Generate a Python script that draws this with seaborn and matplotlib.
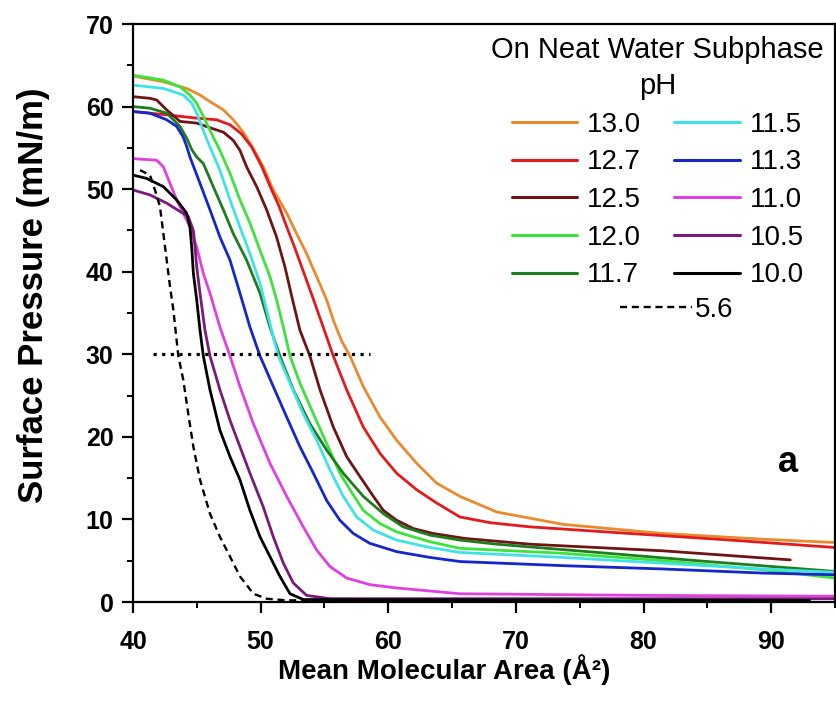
import numpy as np
import pandas as pd
import matplotlib
matplotlib.use("Agg")
import matplotlib.pyplot as plt
import seaborn as sns
from matplotlib.ticker import MultipleLocator

# ---------------- data ----------------
x_13_0 = [40, 42.38, 44.2, 45.25, 46.03, 47.08, 47.86, 48.64, 49.43, 50.21, 50.99, 52.04, 52.82, 53.6, 54.39, 55.17, 55.75,
          56.35, 57.0, 58.04, 59.35, 60.65, 62.22, 63.78, 65.61, 68.5, 73.7, 81.5, 89.4, 95]
y_13_0 = [63.7, 63.0, 62.2, 61.4, 60.6, 59.6, 58.4, 56.9, 54.9, 52.7, 49.9, 47.1, 44.6, 42.2, 39.4, 36.6, 33.9,
          31.6, 29.8, 26.1, 22.4, 19.6, 16.8, 14.4, 12.8, 10.9, 9.4, 8.3, 7.6, 7.2]

x_12_7 = [40, 42.64, 44.99, 46.55, 47.6, 48.5, 49.3, 50.1, 50.75, 51.45, 52.05, 52.65, 53.4, 54.15, 54.9,
          55.69, 56.74, 58.04, 59.35, 60.65, 62.22, 63.78, 65.61, 68.0, 71.1, 78.9, 86.8, 95]
y_12_7 = [59.4, 59.0, 58.6, 58.4, 57.8, 56.7, 55.1, 52.7, 50.3, 47.9, 45.4, 43.0, 39.8, 36.6, 33.3,
          29.8, 25.7, 21.2, 18.0, 15.6, 13.6, 12.0, 10.3, 9.6, 9.1, 8.3, 7.5, 6.6]

x_12_5 = [40, 41.33, 41.85, 42.64, 43.68, 44.99, 46.29, 47.08, 47.86, 48.38, 48.9, 49.69, 50.47, 51.25, 51.9, 52.5, 53.08,
          53.86, 54.65, 55.69, 56.74, 57.78, 58.83, 59.61, 60.65, 61.96, 63.5, 66.0, 71.1, 81.5, 91.5]
y_12_5 = [61.2, 61.0, 60.8, 59.6, 58.2, 58.0, 57.3, 56.9, 55.9, 54.7, 52.7, 50.3, 47.5, 44.2, 40.6, 36.6, 32.9,
          29.8, 25.7, 21.2, 17.6, 15.2, 12.8, 11.1, 9.9, 8.9, 8.3, 7.7, 7.0, 6.2, 5.1]

x_12_0 = [40, 42.38, 43.68, 44.46, 44.99, 45.51, 46.29, 46.81, 47.6, 48.38, 49.16, 49.95, 50.73, 51.25, 51.78,
          52.3, 53.08, 54.13, 55.17, 56.21, 57.0, 58.04, 59.35, 60.65, 63.26, 65.61, 73.7, 81.5, 89.4, 95]
y_12_0 = [63.8, 63.2, 62.4, 61.4, 60.4, 58.8, 56.3, 54.7, 51.9, 48.7, 45.9, 42.6, 39.4, 36.6, 33.3,
          29.8, 26.5, 22.8, 19.2, 15.6, 13.6, 11.1, 9.5, 8.5, 7.3, 6.5, 5.9, 5.0, 3.9, 2.9]

x_11_7 = [40, 41.33, 42.64, 43.68, 44.2, 44.6, 44.99, 45.51, 46.29, 47.08, 47.86, 48.9, 49.95, 50.73,
          51.51, 52.56, 53.86, 55.17, 56.47, 58.04, 59.61, 61.17, 63.26, 65.61, 68.5, 76.4, 84.2, 95]
y_11_7 = [60.0, 59.8, 59.2, 57.6, 56.2, 54.8, 53.9, 53.1, 50.3, 47.5, 44.6, 41.4, 37.4, 33.3,
          29.8, 25.7, 21.6, 18.4, 15.6, 12.8, 10.7, 9.1, 8.1, 7.5, 7.0, 6.0, 5.0, 3.7]

x_11_5 = [40, 42.38, 43.94, 44.6, 44.99, 45.51, 46.03, 46.81, 47.6, 48.38, 49.16, 49.95, 50.4, 50.8,
          51.38, 52.3, 53.34, 54.39, 55.43, 56.47, 57.52, 58.83, 60.65, 63.26, 65.61, 73.7, 81.5, 89.4, 95]
y_11_5 = [62.6, 62.2, 61.4, 60.4, 59.2, 57.1, 55.1, 52.3, 48.7, 45.4, 42.2, 38.6, 35.8, 33.3,
          29.8, 26.5, 22.8, 19.6, 16.0, 12.8, 10.3, 8.7, 7.5, 6.6, 6.0, 5.4, 4.7, 4.0, 3.6]

x_11_3 = [40, 41.33, 42.64, 43.42, 43.94, 44.2, 44.46, 45.25, 46.03, 46.81, 47.6, 48.38, 49.16,
          49.95, 50.99, 52.04, 53.08, 54.13, 55.17, 56.21, 57.26, 58.56, 60.65, 63.26, 65.61, 73.7, 81.5, 89.4, 95]
y_11_3 = [59.4, 59.2, 58.4, 57.6, 56.3, 55.2, 53.9, 50.7, 47.5, 44.2, 41.4, 37.4, 33.3,
          29.8, 26.1, 22.4, 18.8, 15.6, 12.3, 9.9, 8.3, 7.1, 6.1, 5.4, 4.9, 4.4, 4.0, 3.5, 3.3]

x_11_0 = [40, 41.85, 42.38, 42.9, 43.42, 43.94, 44.46, 44.99, 45.51, 46.03, 46.81,
          47.6, 48.38, 49.43, 50.73, 52.04, 53.34, 54.39, 55.43, 56.74, 58.56, 60.65, 65.61, 80.0, 95]
y_11_0 = [53.7, 53.5, 52.7, 50.7, 48.7, 47.1, 45.4, 43.0, 39.8, 37.4, 33.3,
          29.8, 26.1, 21.6, 16.8, 12.8, 9.1, 6.3, 4.3, 2.9, 2.1, 1.7, 1.0, 0.8, 0.7]

x_10_5 = [40, 41.33, 42.64, 43.68, 44.33, 44.73, 44.86, 44.99, 45.25, 45.64,
          46.03, 46.81, 47.6, 48.38, 49.16, 50.21, 50.99, 51.78, 52.56, 53.6, 55.43, 65.6, 95]
y_10_5 = [49.9, 49.3, 48.3, 47.3, 46.7, 45.0, 43.0, 40.6, 37.4, 32.9,
          29.8, 25.7, 22.0, 18.8, 15.6, 11.5, 7.9, 4.7, 2.3, 0.8, 0.4, 0.4, 0.4]

x_10_0 = [40, 41.07, 42.38, 43.42, 44.2, 44.46, 44.6, 44.73, 44.99, 45.25,
          45.51, 46.03, 46.81, 47.6, 48.38, 49.16, 49.95, 50.73, 51.51, 52.3, 53.34, 93.0]
y_10_0 = [51.7, 51.3, 50.3, 48.7, 47.1, 45.4, 43.0, 39.8, 36.6, 32.9,
          29.8, 25.7, 20.8, 17.6, 14.8, 11.1, 7.9, 5.5, 3.1, 1.0, 0.3, 0.2]

x_5_6 = [40.55, 41.33, 41.72, 42.11, 42.38, 42.64, 42.9, 43.16,
         43.55, 43.94, 44.33, 44.73, 45.25, 46.03, 46.81, 47.6, 48.38, 49.43, 50.47, 52.04, 93.0]
y_5_6 = [52.3, 51.7, 49.9, 47.9, 44.6, 41.4, 38.2, 35.4,
         29.8, 26.9, 22.8, 18.8, 14.8, 10.7, 7.9, 5.5, 3.1, 1.0, 0.4, 0.2, 0.1]

# horizontal reference line at 30 mN/m
ref_x = [41.6, 58.6]
ref_y = [30, 30]

ph_labels = ["13.0", "12.7", "12.5", "12.0", "11.7", "11.5", "11.3", "11.0", "10.5", "10.0", "5.6"]
colors = ["#E98A2E", "#E31A1C", "#6E1414", "#3CE33C", "#1E7D1E",
          "#3FE3E6", "#1426CC", "#E040E0", "#7A1A7A", "#000000", "#000000"]

curves = [(x_13_0, y_13_0), (x_12_7, y_12_7), (x_12_5, y_12_5), (x_12_0, y_12_0),
          (x_11_7, y_11_7), (x_11_5, y_11_5), (x_11_3, y_11_3), (x_11_0, y_11_0),
          (x_10_5, y_10_5), (x_10_0, y_10_0), (x_5_6, y_5_6)]

# ---------------- style ----------------
sns.set_style("ticks")
plt.rcParams["font.family"] = ["Liberation Sans", "DejaVu Sans"]
plt.rcParams["text.color"] = "black"
plt.rcParams["axes.labelcolor"] = "black"
plt.rcParams["xtick.color"] = "black"
plt.rcParams["ytick.color"] = "black"
plt.rcParams["axes.edgecolor"] = "black"
plt.rcParams["lines.solid_joinstyle"] = "round"

fig = plt.figure(figsize=(8.36, 7.1), dpi=100)
ax = fig.add_axes([133 / 836, 1 - 602 / 710, (835 - 133) / 836, (602 - 24) / 710])

handles = []
for (xs, ys), lab, col in zip(curves, ph_labels, colors):
    df = pd.DataFrame({"area": xs, "pressure": ys})
    sns.lineplot(data=df, x="area", y="pressure", ax=ax, color=col,
                 lw=2.0, sort=False, estimator=None)
    ln = ax.lines[-1]
    ln.set_label(lab)
    if lab == "5.6":
        ln.set_linestyle((0, (3, 2)))
        ln.set_linewidth(1.7)
    handles.append(ln)

df_ref = pd.DataFrame({"area": ref_x, "pressure": ref_y})
sns.lineplot(data=df_ref, x="area", y="pressure", ax=ax, color="black",
             lw=2.3, sort=False, estimator=None)
ax.lines[-1].set_linestyle((0, (1, 1.7)))

ax.set_xlim(40, 95)
ax.set_ylim(0, 70)
ax.xaxis.set_major_locator(MultipleLocator(10))
ax.xaxis.set_minor_locator(MultipleLocator(5))
ax.yaxis.set_major_locator(MultipleLocator(10))
ax.yaxis.set_minor_locator(MultipleLocator(5))

for s in ax.spines.values():
    s.set_linewidth(1.6)
    s.set_color("black")
ax.tick_params(axis="both", which="major", direction="out", length=8, width=1.6,
               labelsize=18, colors="black")
ax.tick_params(axis="both", which="minor", direction="out", length=4, width=1.4,
               colors="black")
ax.tick_params(axis="x", which="major", pad=12)
ax.tick_params(axis="y", which="major", pad=6)
for t in ax.get_xticklabels() + ax.get_yticklabels():
    t.set_fontweight("bold")

ax.set_xlabel("Mean Molecular Area (Å²)", fontsize=20, fontweight="bold", color="black")
ax.set_ylabel("Surface Pressure (mN/m)", fontsize=25, fontweight="bold", color="black")
ax.xaxis.set_label_coords(0.443, -0.09)
ax.yaxis.set_label_coords(-0.118, 0.53)

ax.text(91.3, 16.9, "a", fontsize=26, fontweight="bold", ha="center", va="center")

leg1 = ax.legend(handles=handles[:10], labels=ph_labels[:10], ncol=2,
                 title="On Neat Water Subphase\npH", loc="upper right",
                 bbox_to_anchor=(1.0, 0.998), frameon=False, fontsize=20,
                 title_fontsize=21, handlelength=2.35, handletextpad=0.36,
                 columnspacing=1.2, labelspacing=0.42, borderpad=0.3,
                 borderaxespad=0.1)
leg1.get_title().set_multialignment("center")
leg1.get_title().set_linespacing(1.35)
for h in leg1.legend_handles:
    h.set_linewidth(2.2)
ax.add_artist(leg1)

leg2 = ax.legend(handles=[handles[10]], labels=[ph_labels[10]], loc="center",
                 bbox_to_anchor=(0.774, 0.505), frameon=False, fontsize=20,
                 handlelength=2.6, handletextpad=0.1)

fig.savefig("out.png", dpi=100)
